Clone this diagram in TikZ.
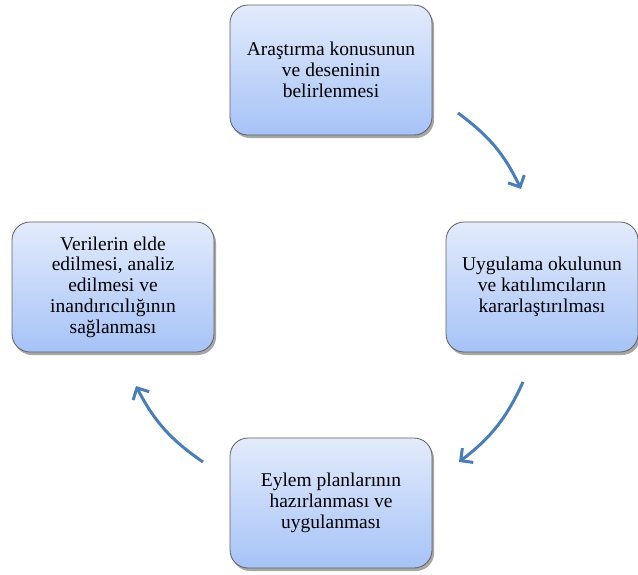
\documentclass[tikz,border=0pt]{standalone}
\usepackage{fontspec}
\setmainfont{Liberation Serif}
\usetikzlibrary{arrows.meta,shadows}
\definecolor{boxtop}{HTML}{E3EBFC}
\definecolor{boxbot}{HTML}{A6C3F7}
\definecolor{boxline}{HTML}{5F5F5F}
\definecolor{arrowc}{HTML}{4A7EBB}
\tikzset{
  stagebox/.style={rectangle, rounded corners=18pt, draw=boxline, line width=0.8pt,
    top color=boxtop, bottom color=boxbot, minimum width=202pt, minimum height=130pt,
    align=center, font=\fontsize{19.5}{20.7}\selectfont, inner sep=2pt,
    drop shadow={shadow xshift=2pt, shadow yshift=-3pt, opacity=0.35, fill=black}},
  flowarrow/.style={draw=arrowc, line width=3pt, -{Straight Barb[length=9pt,width=18pt,line width=3pt]}}
}
\begin{document}
\begin{tikzpicture}[x=1pt,y=-1pt]
\useasboundingbox (0,0) rectangle (638,574);
\node[stagebox] (top) at (331,70) {Araştırma konusunun\\ve deseninin\\belirlenmesi};
\node[stagebox, minimum width=192pt] (right) at (542,287) {Uygulama okulunun\\ve katılımcıların\\kararlaştırılması};
\node[stagebox] (left) at (113,287) {Verilerin elde\\edilmesi, analiz\\edilmesi ve\\inandırıcılığının\\sağlanması};
\node[stagebox] (bottom) at (331,503) {Eylem planlarının\\hazırlanması ve\\uygulanması};
\coordinate (a1s) at (458,113);
\coordinate (a1e) at (521,189);
\coordinate (a2s) at (523,382);
\coordinate (a2e) at (459,462);
\coordinate (a3s) at (203,462);
\coordinate (a3e) at (136,386);
\draw[flowarrow] (a1s) to[bend left=14] (a1e);
\draw[flowarrow] (a2s) to[bend left=14] (a2e);
\draw[flowarrow] (a3s) to[bend left=14] (a3e);
\end{tikzpicture}
\end{document}
